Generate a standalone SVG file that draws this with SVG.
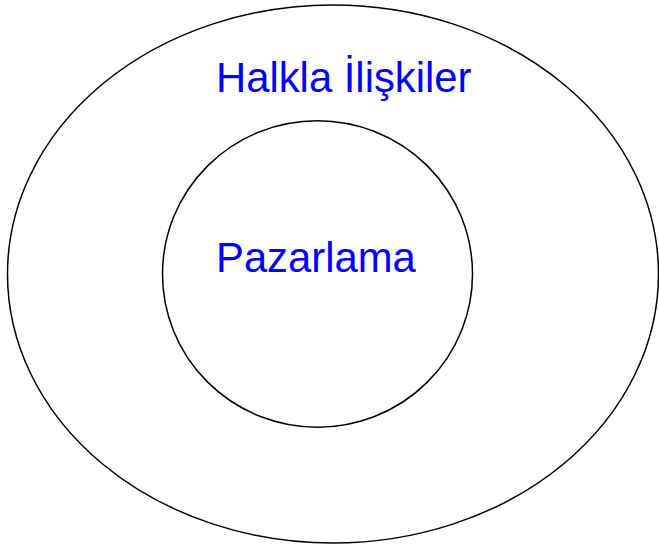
<svg xmlns="http://www.w3.org/2000/svg" width="659" height="545" viewBox="0 0 659 545">
<style>
.shape{fill:none;stroke:#000;stroke-width:1.5}
.lbl{font-family:"Liberation Sans",Arial,sans-serif;font-size:41.8px;fill:#0000FF}
</style>
<rect width="659" height="545" fill="#fff"/>
<g id="connectors"></g>
<g id="node-halkla">
<ellipse class="shape" cx="333" cy="274" rx="325.5" ry="269"/>
<text class="lbl" x="216" y="92">Halkla İlişkiler</text>
</g>
<g id="node-pazarlama">
<ellipse class="shape" cx="317.5" cy="274" rx="155" ry="153.3"/>
<text class="lbl" x="216" y="272">Pazarlama</text>
</g>
</svg>
